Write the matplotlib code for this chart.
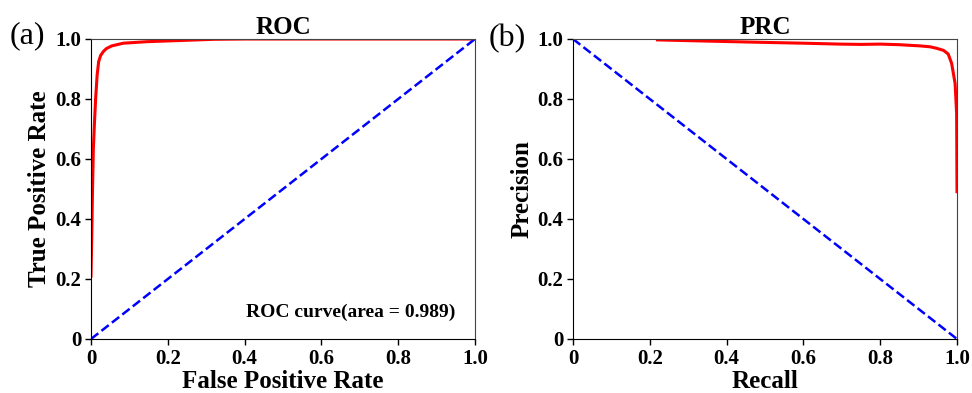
import matplotlib
matplotlib.use("Agg")
import matplotlib.pyplot as plt
from matplotlib.ticker import FuncFormatter

plt.rcParams['font.family'] = ['Liberation Serif', 'DejaVu Serif']
plt.rcParams['font.weight'] = 'bold'

# ROC curve
fpr = [0.0, 0.002, 0.004, 0.006, 0.009, 0.012, 0.016, 0.02, 0.025, 0.032,
       0.04, 0.054, 0.084, 0.145, 0.232, 0.32, 0.4, 1.0]
tpr = [0.21, 0.35, 0.5, 0.63, 0.72, 0.8, 0.88, 0.925, 0.945, 0.958,
       0.968, 0.977, 0.986, 0.991, 0.995, 0.999, 1.0, 1.0]
roc_area = 0.989

# PR curve
recall = [0.22, 0.35, 0.487, 0.6, 0.695, 0.75, 0.8, 0.85, 0.904, 0.93, 0.947,
          0.965, 0.977, 0.986, 0.995, 0.999, 1.0]
precision = [0.997, 0.993, 0.989, 0.986, 0.983, 0.982, 0.983, 0.981, 0.977, 0.974, 0.969,
             0.962, 0.95, 0.919, 0.852, 0.752, 0.491]

ticks = [0, 0.2, 0.4, 0.6, 0.8, 1.0]
fmt = FuncFormatter(lambda v, p: '0' if abs(v) < 1e-9 else '%.1f' % v)

fig = plt.figure(figsize=(9.72, 3.93), dpi=100)
ax1 = fig.add_axes([91 / 972, 54 / 393, 384 / 972, 300 / 393])
ax2 = fig.add_axes([573 / 972, 54 / 393, 384 / 972, 300 / 393])

ax1.plot(fpr, tpr, color='red', lw=2.2)
ax1.plot([0, 1], [0, 1], color='blue', lw=1.8, ls='--')
ax1.text(0.95, 0.09, 'ROC curve(area = %.3f)' % roc_area, ha='right', va='center',
         fontsize=14, fontweight='bold', transform=ax1.transData)
ax1.set_title('ROC', fontsize=18, fontweight='bold', pad=3)
ax1.set_xlabel('False Positive Rate', fontsize=18, fontweight='bold', labelpad=1)
ax1.set_ylabel('True Positive Rate', fontsize=18, fontweight='bold', labelpad=3)

ax2.plot(recall, precision, color='red', lw=2.2)
ax2.plot([0, 1], [1, 0], color='blue', lw=1.8, ls='--')
ax2.set_title('PRC', fontsize=18, fontweight='bold', pad=3)
ax2.set_xlabel('Recall', fontsize=18, fontweight='bold', labelpad=1)
ax2.set_ylabel('Precision', fontsize=18, fontweight='bold', labelpad=3)

for ax in (ax1, ax2):
    ax.set_xlim(0, 1)
    ax.set_ylim(0, 1)
    ax.set_xticks(ticks)
    ax.set_yticks(ticks)
    ax.xaxis.set_major_formatter(fmt)
    ax.yaxis.set_major_formatter(fmt)
    ax.tick_params(labelsize=15, length=4, width=1, pad=3)
    for lab in ax.get_xticklabels() + ax.get_yticklabels():
        lab.set_fontweight('bold')
    for side in ('top', 'right'):
        ax.spines[side].set_color('#444444')

fig.text(10 / 972, 1 - 36 / 393, '(a)', fontsize=23, fontweight='normal', va='center')
fig.text(489 / 972, 1 - 39 / 393, '(b)', fontsize=23, fontweight='normal', va='center')

fig.savefig('out.png', dpi=100)
